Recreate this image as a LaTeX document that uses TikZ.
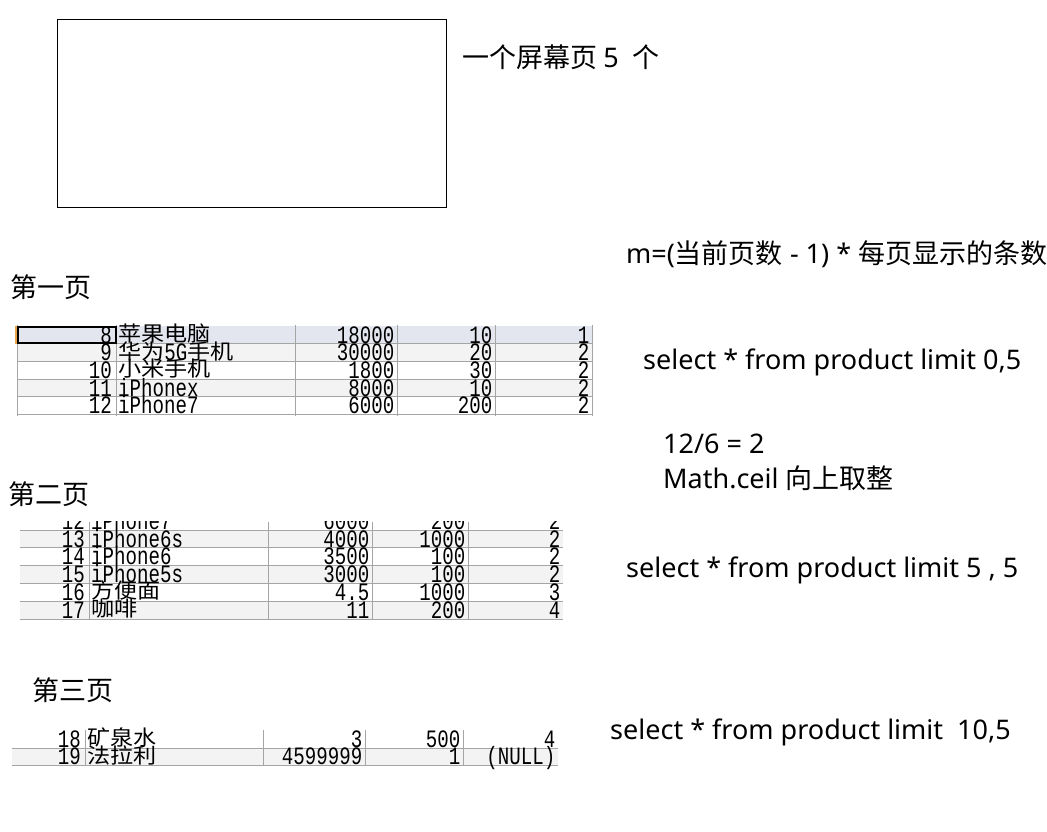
\documentclass[tikz,border=0pt]{standalone}
\usepackage{fontspec}
\setmainfont{Noto Sans}
\newfontfamily\cjk{Noto Sans CJK SC}
\newfontfamily\tabfont[FakeStretch=0.765]{Liberation Mono}
\newfontfamily\tabcjk[FakeStretch=1.1]{Noto Sans CJK SC}
\usepackage{xcolor}
\definecolor{gridgray}{RGB}{165,165,165}
\definecolor{rowgray}{RGB}{243,243,243}
\definecolor{rowsel}{RGB}{227,229,239}
\definecolor{markorange}{RGB}{232,165,70}

% CJK inside the table rows
\newcommand{\zh}[1]{\raisebox{1.5pt}{\tabcjk\fontsize{21}{21}\selectfont #1}}
% one table row: key, baseline, id, name, price, count, last
\newcommand{\prow}[7]{%
  \node[numcell] (id#1) at (\colA-4,#2) {#3};
  \node[namecell] (nm#1) at (\colA+2,#2) {#4};
  \node[numcell] (pr#1) at (\colC-2.5,#2) {#5};
  \node[numcell] (ct#1) at (\colD-2.5,#2) {#6};
  \node[numcell] (ls#1) at (\colE-2.5,#2) {#7};
}

\tikzset{
  lbl/.style={anchor=base west, inner sep=0pt,
    font=\fontsize{27}{32}\selectfont},
  numcell/.style={anchor=base east, inner sep=0pt,
    font=\tabfont\fontsize{25}{25}\selectfont},
  namecell/.style={anchor=base west, inner sep=0pt,
    font=\tabfont\fontsize{25}{25}\selectfont},
  gridline/.style={draw=gridgray, line width=1pt},
}

\begin{document}
\begin{tikzpicture}[x=1pt, y=-1pt]
  \useasboundingbox (0,0) rectangle (1047,832);
  \clip (0,0) rectangle (1047,832);
  \fill[white] (0,0) rectangle (1047,832);

  % empty screen page
  \draw[line width=1.3pt] (57.3,19.3) rectangle (446.3,207.3);
  \node[lbl] (screen) at (462,67.5) {\cjk 一个屏幕页 \rmfamily 5\ \ \cjk 个};

  % page labels
  \node[lbl] (page1) at (10,297.5) {\cjk 第一页};
  \node[lbl] (page2) at (8,504.5) {\cjk 第二页};
  \node[lbl] (page3) at (32,700.5) {\cjk 第三页};

  % formulas and queries
  \node[lbl] (formula) at (626,263)
    {m=({\cjk 当前页数} - 1) * {\cjk 每页显示的条数}};
  \node[lbl] (query1) at (643,369) {select * from product limit 0,5};
  \node[lbl] (ratio) at (663,453) {12/6 = 2};
  \node[lbl] (ceil) at (663,488) {Math.ceil {\cjk 向上取整}};
  \node[lbl] (query2) at (626,577) {select * from product limit 5 , 5};
  \node[lbl] (query3) at (610,739) {select * from product limit \ 10,5};

  % first page rows
  \def\colL{17}\def\colA{116}\def\colB{295}\def\colC{397}\def\colD{495}\def\colE{592}
  \fill[rowsel] (\colL,326) rectangle (\colE,343.7);
  \fill[rowgray] (\colL,343.7) rectangle (\colE,361.4);
  \fill[rowgray] (\colL,379.1) rectangle (\colE,396.8);
  \draw[gridline] (\colL,343.7) -- (\colE,343.7) (\colL,361.4) -- (\colE,361.4)
    (\colL,379.1) -- (\colE,379.1) (\colL,396.8) -- (\colE,396.8)
    (\colL,414.5) -- (\colE,414.5);
  \draw[gridline] (\colL,325) -- (\colL,416) (\colA,325) -- (\colA,416)
    (\colB,325) -- (\colB,416) (\colC,325) -- (\colC,416)
    (\colD,325) -- (\colD,416) (\colE,325) -- (\colE,416);
  \draw[markorange, line width=2pt] (16,326) -- (16,343.5);
  \draw[line width=2pt] (\colL+1,327) rectangle (\colA,343);
  \prow{a8}{343}{8}{\zh{苹果电脑}}{18000}{10}{1}
  \prow{a9}{360.7}{9}{\zh{华为}5G\zh{手机}}{30000}{20}{2}
  \prow{a10}{378.4}{10}{\zh{小米手机}}{1800}{30}{2}
  \prow{a11}{396.1}{11}{iPhonex}{8000}{10}{2}
  \prow{a12}{413.8}{12}{iPhone7}{6000}{200}{2}

  % second page rows
  \def\colL{20}\def\colA{89}\def\colB{268}\def\colC{372}\def\colD{468}\def\colE{563}
  \fill[rowgray] (\colL,530) rectangle (\colE,547.7);
  \fill[rowgray] (\colL,565.3) rectangle (\colE,583.3);
  \fill[rowgray] (\colL,601) rectangle (\colE,619);
  \begin{scope}
    \clip (\colL,521.5) rectangle (\colE,530);
    \prow{b12}{529.5}{12}{iPhone7}{6000}{200}{2}
  \end{scope}
  \draw[gridline] (\colL,530) -- (\colE,530) (\colL,547.7) -- (\colE,547.7)
    (\colL,565.3) -- (\colE,565.3) (\colL,583.3) -- (\colE,583.3)
    (\colL,601) -- (\colE,601) (\colL,619) -- (\colE,619);
  \draw[gridline] (\colA,522) -- (\colA,620) (\colB,522) -- (\colB,620)
    (\colC,522) -- (\colC,620) (\colD,522) -- (\colD,620);
  \prow{b13}{547}{13}{iPhone6s}{4000}{1000}{2}
  \prow{b14}{564.6}{14}{iPhone6}{3500}{100}{2}
  \prow{b15}{582.6}{15}{iPhone5s}{3000}{100}{2}
  \prow{b16}{600.3}{16}{\zh{方便面}}{4.5}{1000}{3}
  \prow{b17}{618.3}{17}{\zh{咖啡}}{11}{200}{4}

  % third page rows
  \def\colL{12}\def\colA{85}\def\colB{263}\def\colC{365}\def\colD{463}\def\colE{558}
  \fill[rowgray] (\colL,748) rectangle (\colE,765.5);
  \draw[gridline] (\colL,748) -- (\colE,748) (\colL,765.5) -- (\colE,765.5);
  \draw[gridline] (\colA,730) -- (\colA,766) (\colB,730) -- (\colB,766)
    (\colC,730) -- (\colC,766) (\colD,730) -- (\colD,766);
  \prow{c18}{747.3}{18}{\zh{矿泉水}}{3}{500}{4}
  \prow{c19}{764.8}{19}{\zh{法拉利}}{4599999}{1}{(NULL)}
\end{tikzpicture}
\end{document}
